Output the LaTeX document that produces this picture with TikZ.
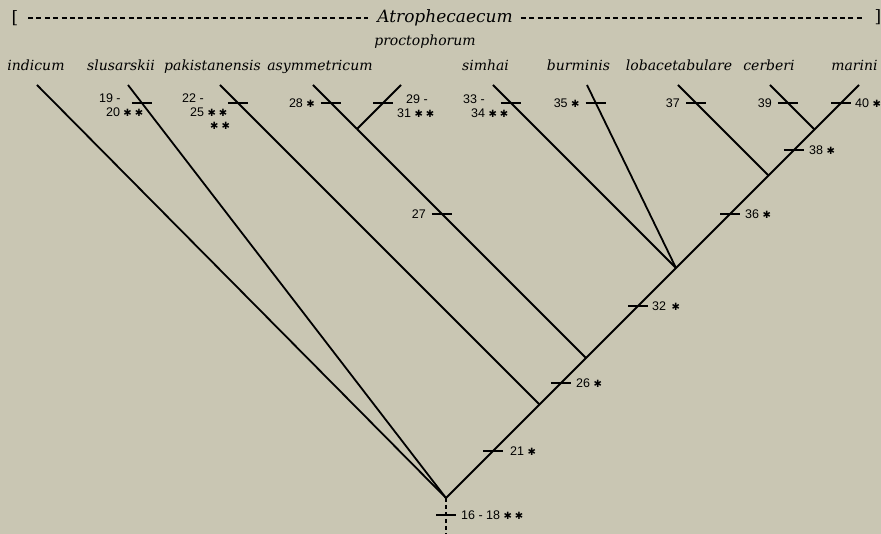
\documentclass[tikz,border=0pt]{standalone}
\usepackage{fontspec}
\setmainfont{DejaVu Serif}
\newfontfamily\numfont{Liberation Sans}
\newfontfamily\symfont{DejaVu Sans}
\usetikzlibrary{calc}
\definecolor{paper}{RGB}{201,198,179}
\newcommand{\sstar}{{\symfont\fontsize{10}{10}\selectfont\char"2731}}
\newcommand{\dstar}{\sstar\hspace{3pt}\sstar}
\tikzset{
  branch/.style={line width=1.8pt},
  tickbar/.style={line width=1.6pt},
  dashline/.style={line width=1.2pt, dash pattern=on 5pt off 3.4pt},
  taxon/.style={font=\fontsize{14}{16}\selectfont\itshape, inner sep=0pt, anchor=base},
  genus/.style={font=\fontsize{17}{19}\selectfont\itshape, inner sep=0pt, anchor=base},
  bracket/.style={font=\fontsize{17}{19}\selectfont, inner sep=0pt},
  num/.style={font=\numfont\fontsize{12.5}{14}\selectfont, inner sep=0pt},
}
\begin{document}
\begin{tikzpicture}[x=1pt,y=1pt]

\fill[paper] (0,0) rectangle (881,534);
\useasboundingbox (0,0) rectangle (881,534);

% genus bracket
\node[genus] (genus) at (445,511) {Atrophecaecum};
\node[bracket] (lbr) at (15,516) {[};
\node[bracket] (rbr) at (878,517) {]};
\draw[dashline] (28,516) -- ([xshift=-9pt]genus.west |- 0,516);
\draw[dashline] ([xshift=8pt]genus.east |- 0,516) -- (865,516);

% species
\node[taxon] (indicum) at (36,463) {indicum};
\node[taxon] (slusarskii) at (121,463) {slusarskii};
\node[taxon] (pakistanensis) at (212.5,463) {pakistanensis};
\node[taxon] (asymmetricum) at (320,463) {asymmetricum};
\node[taxon] (proctophorum) at (425,488) {proctophorum};
\node[taxon] (simhai) at (485.5,463) {simhai};
\node[taxon] (burminis) at (578.5,463) {burminis};
\node[taxon] (lobacetabulare) at (679,463) {lobacetabulare};
\node[taxon] (cerberi) at (769,463) {cerberi};
\node[taxon] (marini) at (854.5,463) {marini};

% branch tips
\coordinate (tInd) at (37,449);
\coordinate (tSlu) at (128,449);
\coordinate (tPak) at (220,449);
\coordinate (tAsy) at (313,449);
\coordinate (tPro) at (401,449);
\coordinate (tSim) at (493,449);
\coordinate (tBur) at (587,449);
\coordinate (tLob) at (678,449);
\coordinate (tCer) at (770,449);
\coordinate (tMar) at (859,449);

% inner nodes
\coordinate (root) at (446,36);
\coordinate (base) at (446,0);
\coordinate (nA) at (539.5,129.5);
\coordinate (nB) at (586,176);
\coordinate (nC) at (357,405);
\coordinate (nD) at (676,266);
\coordinate (nE) at (768.5,358.5);
\coordinate (nF) at (814.5,404.5);

\draw[branch] (tInd) -- (root);
\draw[branch] (tSlu) -- coordinate[pos=0.0436] (k19) (root);
\draw[branch] (tPak) -- coordinate[pos=0.0563] (k22) (nA);
\draw[branch] (tAsy) -- coordinate[pos=0.409] (k28) (nC);
\draw[branch] (tPro) -- coordinate[pos=0.409] (k29) (nC);
\draw[branch] (nC) -- coordinate[pos=0.371] (k27) (nB);
\draw[branch] (tSim) -- coordinate[pos=0.098] (k33) (nD);
\draw[branch] (tBur) -- coordinate[pos=0.098] (k35) (nD);
\draw[branch] (tLob) -- coordinate[pos=0.199] (k37) (nE);
\draw[branch] (tCer) -- coordinate[pos=0.404] (k39) (nF);
\draw[branch] (root) -- coordinate[pos=0.503] (k21) (nA)
  -- coordinate[pos=0.462] (k26) (nB) -- coordinate[pos=0.578] (k32) (nD)
  -- coordinate[pos=0.584] (k36) (nE) -- coordinate[pos=0.554] (k38) (nF)
  -- coordinate[pos=0.596] (k40) (tMar);
\draw[branch, line width=1.6pt, dash pattern=on 4pt off 3pt] (root) -- coordinate[pos=0.47] (k16) (base);

% character ticks
\foreach \k in {k16,k19,k21,k22,k26,k27,k28,k29,k32,k33,k35,k36,k37,k38,k39,k40}
  \draw[tickbar] ([xshift=-10pt]\k) -- ([xshift=10pt]\k);

\node[num, anchor=west] at ([xshift=15pt]k16) {16 - 18 \dstar};
\node[num, anchor=west] at ([xshift=17pt]k21) {21 \sstar};
\node[num, anchor=west] at ([xshift=15pt]k26) {26 \sstar};
\node[num, anchor=west] at ([xshift=14pt]k32) {32 \hspace{2pt}\sstar};
\node[num, anchor=west] at ([xshift=15pt]k36) {36 \sstar};
\node[num, anchor=west] at ([xshift=15pt]k38) {38 \sstar};
\node[num, anchor=west] at ([xshift=14pt]k40) {40 \sstar};
\node[num, anchor=east] at ([xshift=-16pt]k27) {27};
\node[num, anchor=east] at ([xshift=-16pt]k28) {28 \sstar};
\node[num, anchor=east] at ([xshift=-16pt]k35) {35 \sstar};
\node[num, anchor=east] at ([xshift=-16pt]k37) {37};
\node[num, anchor=east] at ([xshift=-16pt]k39) {39};

\node[num, anchor=west] at ([shift={(-43,5)}]k19) {19 -};
\node[num, anchor=west] at ([shift={(-36,-9)}]k19) {20 \dstar};
\node[num, anchor=west] at ([shift={(-56,5)}]k22) {22 -};
\node[num, anchor=west] at ([shift={(-48,-9)}]k22) {25 \dstar};
\node[num, anchor=west] at ([shift={(-28,-23)}]k22) {\dstar};
\node[num, anchor=west] at ([shift={(23,4)}]k29) {29 -};
\node[num, anchor=west] at ([shift={(14,-10)}]k29) {31 \dstar};
\node[num, anchor=west] at ([shift={(-48,4)}]k33) {33 -};
\node[num, anchor=west] at ([shift={(-40,-10)}]k33) {34 \dstar};

\end{tikzpicture}
\end{document}
